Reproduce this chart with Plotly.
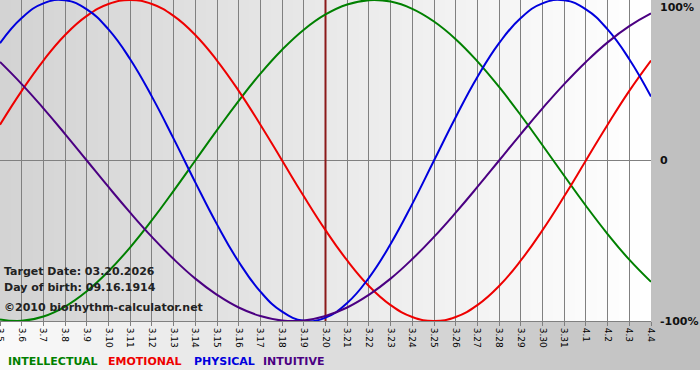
import plotly.graph_objects as go

# ---- data ----
day_labels = ["3.5", "3.6", "3.7", "3.8", "3.9", "3.10", "3.11", "3.12", "3.13", "3.14",
              "3.15", "3.16", "3.17", "3.18", "3.19", "3.20", "3.21", "3.22", "3.23", "3.24",
              "3.25", "3.26", "3.27", "3.28", "3.29", "3.30", "3.31", "4.1", "4.2", "4.3", "4.4"]

intellectual = [-0.990, -0.999, -0.972, -0.910, -0.815, -0.690, -0.541, -0.372, -0.189, 0.000,
                0.189, 0.372, 0.541, 0.690, 0.815, 0.910, 0.972, 0.999, 0.990, 0.945,
                0.866, 0.756, 0.618, 0.458, 0.282, 0.095, -0.095, -0.282, -0.458, -0.618, -0.756]
emotional = [0.223, 0.434, 0.623, 0.782, 0.901, 0.975, 1.000, 0.975, 0.901, 0.782,
             0.623, 0.434, 0.223, 0.000, -0.223, -0.434, -0.623, -0.782, -0.901, -0.975,
             -1.000, -0.975, -0.901, -0.782, -0.623, -0.434, -0.223, 0.000, 0.223, 0.434, 0.623]
physical = [0.731, 0.888, 0.979, 0.998, 0.942, 0.817, 0.631, 0.398, 0.136, -0.136,
            -0.398, -0.631, -0.817, -0.942, -0.998, -0.979, -0.888, -0.731, -0.520, -0.270,
            0.000, 0.270, 0.520, 0.731, 0.888, 0.979, 0.998, 0.942, 0.817, 0.631, 0.398]
intuitive = [0.614, 0.476, 0.325, 0.165, 0.000, -0.165, -0.325, -0.476, -0.614, -0.736,
             -0.837, -0.916, -0.969, -0.997, -0.997, -0.969, -0.916, -0.837, -0.736, -0.614,
             -0.476, -0.325, -0.165, 0.000, 0.165, 0.325, 0.476, 0.614, 0.736, 0.837, 0.916]

target_index = 15  # 3.20
series_names = ["INTELLECTUAL", "EMOTIONAL", "PHYSICAL", "INTUITIVE"]
series_colors = ["#008000", "#ee0000", "#0000dd", "#4b0082"]
y_tick_text = ["100%", "0", "-100%"]
info_lines = ["Target Date: 03.20.2026", "Day of birth: 09.16.1914"]
copyright_text = "\u00a92010 biorhythm-calculator.net"

x = list(range(len(day_labels)))
W, H = 700, 380
ML, MR, MT, MB = 0, 49, 0, 59
pw = W - ML - MR
ph = H - MT - MB


def lerp_color(c0, c1, t):
    v = [round(a + (b - a) * t) for a, b in zip(c0, c1)]
    return "rgb(%d,%d,%d)" % tuple(v)


shapes = []
# paper gradient (white -> gray), down to y=370
n = 70
for i in range(n):
    px0 = i * W / n
    px1 = (i + 1) * W / n + 1
    shapes.append(dict(type="rect", xref="paper", yref="paper",
                       x0=(px0 - ML) / pw, x1=(px1 - ML) / pw,
                       y0=(H - MB - 370) / ph, y1=(H - MB) / ph + 0.01,
                       fillcolor=lerp_color((250, 250, 250), (190, 190, 190), i / (n - 1)),
                       line=dict(width=0), layer="below"))
# plot area gradient (gray -> white)
m = 60
span = len(day_labels) - 1
for i in range(m):
    shapes.append(dict(type="rect", xref="x", yref="y",
                       x0=i * span / m, x1=(i + 1) * span / m + 0.05,
                       y0=-1, y1=1,
                       fillcolor=lerp_color((211, 211, 211), (255, 255, 255), i / (m - 1)),
                       line=dict(width=0), layer="below"))

fig = go.Figure()
# target day line
fig.add_trace(go.Scatter(x=[target_index, target_index], y=[-1, 1], mode="lines",
                         line=dict(color="#8b1a1a", width=2), hoverinfo="skip", showlegend=False))
for name, vals, col in zip(series_names, [intellectual, emotional, physical, intuitive], series_colors):
    fig.add_trace(go.Scatter(x=x, y=vals, mode="lines", name=name,
                             line=dict(color=col, width=2, shape="spline", smoothing=1.3),
                             hoverinfo="skip", showlegend=False))

annotations = []
# right axis labels
for txt, yv in zip(y_tick_text, [1, 0, -1]):
    annotations.append(dict(xref="paper", yref="y", x=1, y=yv, xanchor="left", yanchor="middle",
                            xshift=7, yshift=(-7 if yv == 1 else 0), text=txt, showarrow=False,
                            font=dict(family="DejaVu Sans", size=11, color="#111111", weight="bold")))
# info text
for i, t in enumerate(info_lines):
    annotations.append(dict(xref="paper", yref="paper", x=(2 - ML) / pw, y=(H - MB - (271 + 16 * i)) / ph,
                            xanchor="left", yanchor="middle", text=t, showarrow=False,
                            font=dict(family="Tahoma, DejaVu Sans", size=11, color="#222222", weight="bold")))
annotations.append(dict(xref="paper", yref="paper", x=(2 - ML) / pw, y=(H - MB - 307) / ph,
                        xanchor="left", yanchor="middle", text=copyright_text, showarrow=False,
                        font=dict(family="Tahoma, DejaVu Sans", size=11, color="#222222", weight="bold")))
# legend text
leg_x = [6, 106, 192, 261]
for name, col, lx in zip(series_names, series_colors, leg_x):
    annotations.append(dict(xref="paper", yref="paper", x=(lx - ML) / pw, y=(H - MB - 361) / ph,
                            xanchor="left", yanchor="middle", text=name, showarrow=False,
                            font=dict(family="Tahoma, DejaVu Sans", size=11, color=col, weight="bold")))

fig.update_layout(
    width=W, height=H,
    margin=dict(l=ML, r=MR, t=MT, b=MB, pad=0, autoexpand=False),
    paper_bgcolor="#ffffff", plot_bgcolor="rgba(0,0,0,0)",
    shapes=shapes, annotations=annotations,
    xaxis=dict(range=[0, span], tickvals=x, ticktext=day_labels, tickangle=90,
               tickfont=dict(family="DejaVu Sans", size=9, color="#000000"),
               ticks="outside", ticklen=4, tickcolor="#808080", ticklabeloverflow="allow",
               automargin=False,
               showgrid=True, gridcolor="#808080", gridwidth=1,
               showline=True, linecolor="#808080", linewidth=1, zeroline=False, fixedrange=True),
    yaxis=dict(range=[-1, 1], showticklabels=False, showgrid=False, zeroline=True, automargin=False,
               zerolinecolor="#808080", zerolinewidth=1, fixedrange=True, showline=False),
    showlegend=False,
)

fig.write_html("out.html", config={"displayModeBar": False})
